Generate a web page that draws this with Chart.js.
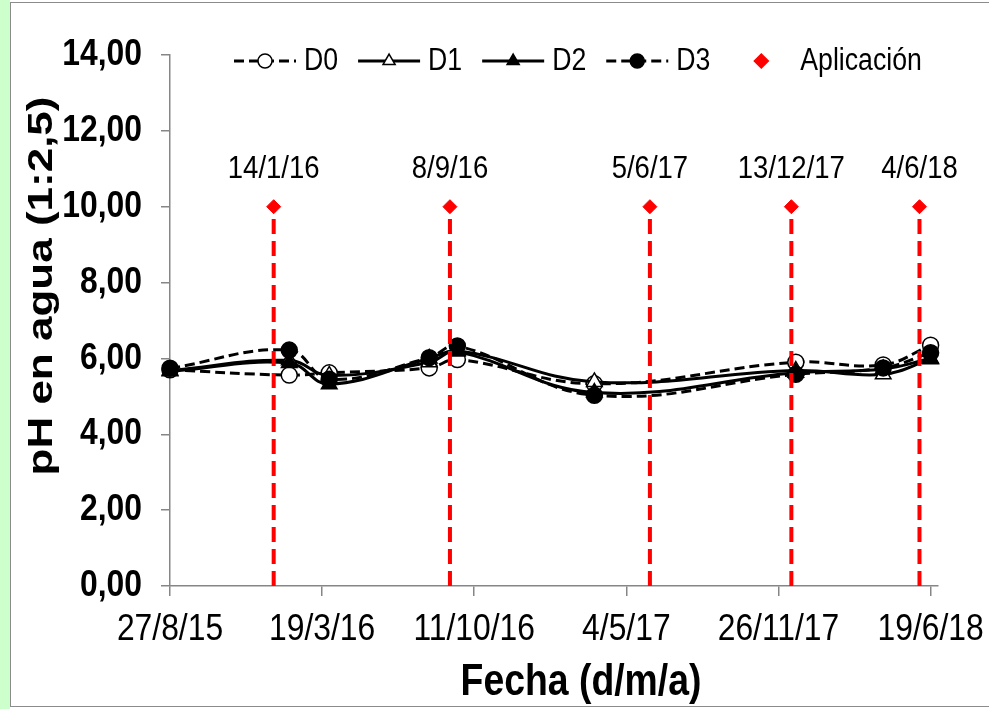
<!DOCTYPE html>
<html>
<head>
<meta charset="utf-8">
<script src="https://cdn.jsdelivr.net/npm/chart.js@4.4.1/dist/chart.umd.min.js"></script>
<style>
  html, body { margin: 0; padding: 0; background: #fff; }
  body { width: 989px; height: 709px; position: relative; overflow: hidden; }
  .strip { position: absolute; left: 0; top: 0; width: 10px; height: 709px; background: #ccffcc; }
  .frame { position: absolute; left: 10px; top: 2px; width: 1000px; height: 705px; border: 1px solid #8c8c8c; box-sizing: border-box; background: #fff; }
  .wrap { position: absolute; left: 11px; top: 3px; width: 978px; height: 702px; }
</style>
</head>
<body>
<div class="strip"></div>
<div class="frame"></div>
<div class="wrap"><canvas id="chart"></canvas></div>
<script>
const FONT = '"Liberation Sans", Arial, sans-serif';
const SQUEEZE = 0.86; // the original text is set in a condensed face

// Sampling dates and pH values
const sampleDates = ['2015-08-27', '2016-02-04', '2016-03-29', '2016-08-11', '2016-09-18', '2017-03-22', '2017-12-19', '2018-04-16', '2018-06-19'];
const d0 = [5.70, 5.56, 5.62, 5.75, 5.97, 5.33, 5.90, 5.83, 6.35];
const d1 = [5.68, 5.95, 5.55, 5.90, 6.20, 5.38, 5.68, 5.58, 5.98];
const d2 = [5.66, 5.88, 5.32, 6.00, 6.18, 5.10, 5.62, 5.72, 6.00];
const d3 = [5.74, 6.22, 5.45, 6.02, 6.33, 5.03, 5.58, 5.75, 6.15];

// Application dates
const appDates = ['2016-01-14', '2016-09-08', '2017-06-05', '2017-12-13', '2018-06-04'];
const appLabels = ['14/1/16', '8/9/16', '5/6/17', '13/12/17', '4/6/18'];
const appValues = [10, 10, 10, 10, 10];

// Axis tick labels
const xTickLabels = ['27/8/15', '19/3/16', '11/10/16', '4/5/17', '26/11/17', '19/6/18'];
const yTicks = [0, 2, 4, 6, 8, 10, 12, 14];

function dayNum(s) {
  const [y, m, d] = s.split('-').map(Number);
  return Date.UTC(y, m - 1, d) / 864e5;
}

const xMin = dayNum('2015-08-27');
const xStep = (dayNum('2018-06-19') - xMin) / (xTickLabels.length - 1);

const toPoints = vals => sampleDates.map((d, i) => ({ x: dayNum(d), y: vals[i] }));

function series(label, vals, dashed, style, filled, order) {
  return {
    label, data: toPoints(vals),
    borderColor: '#000', borderWidth: 3, borderDash: dashed ? [10, 5] : [],
    pointStyle: style, pointRadius: style === 'circle' ? 8 : 9,
    pointBackgroundColor: filled ? '#000' : '#fff', pointBorderColor: '#000', pointBorderWidth: 1.5,
    tension: 0.4, clip: false, order
  };
}

function text(ctx, str, x, y, font, align, sx) {
  ctx.save();
  ctx.font = font;
  ctx.textAlign = align;
  ctx.textBaseline = 'middle';
  ctx.fillStyle = '#000';
  ctx.translate(x, y);
  ctx.scale(sx || SQUEEZE, 1);
  ctx.fillText(str, 0, 0);
  ctx.restore();
}

// Red dashed application lines + date labels
const appPlugin = {
  id: 'aplicaciones',
  afterDatasetsDraw(chart) {
    const { ctx, scales: { x, y } } = chart;
    const y0 = y.getPixelForValue(0);
    ctx.save();
    appDates.forEach((d, i) => {
      const px = x.getPixelForValue(dayNum(d));
      const py = y.getPixelForValue(appValues[i]);
      ctx.strokeStyle = '#ff0000';
      ctx.lineWidth = 4;
      ctx.setLineDash([15, 7]);
      ctx.beginPath();
      ctx.moveTo(px, y0);
      ctx.lineTo(px, py);
      ctx.stroke();
      ctx.setLineDash([]);
      text(ctx, appLabels[i], px, py - 38, '32px ' + FONT, 'center');
    });
    ctx.restore();
  }
};

// Tick labels, legend and axis titles
const textPlugin = {
  id: 'texts',
  afterDraw(chart) {
    const { ctx, chartArea, scales: { x, y } } = chart;

    x.ticks.forEach((t, i) => {
      text(ctx, xTickLabels[i], x.getPixelForValue(t.value), chartArea.bottom + 44, '37px ' + FONT, 'center');
    });
    yTicks.forEach(v => {
      text(ctx, v.toFixed(2).replace('.', ','), chartArea.left - 28, y.getPixelForValue(v), 'bold 37px ' + FONT, 'right');
    });

    // legend
    ctx.save();
    const ly = 58;
    const lineLen = 62;
    let lx = 223;
    ctx.font = '31px ' + FONT;
    chart.data.datasets.forEach(ds => {
      const cx = lx + lineLen / 2;
      if (ds.showLine !== false) {
        ctx.strokeStyle = '#000';
        ctx.lineWidth = 3;
        ctx.setLineDash(ds.borderDash);
        ctx.beginPath();
        ctx.moveTo(lx, ly);
        ctx.lineTo(lx + lineLen, ly);
        ctx.stroke();
        ctx.setLineDash([]);
        ctx.fillStyle = ds.pointBackgroundColor;
        ctx.lineWidth = 1.5;
        Chart.helpers.drawPoint(ctx, { pointStyle: ds.pointStyle, radius: 7, borderWidth: 1.5, rotation: 0 }, cx, ly);
      } else {
        ctx.fillStyle = '#ff0000';
        ctx.strokeStyle = '#ff0000';
        Chart.helpers.drawPoint(ctx, { pointStyle: 'rectRot', radius: 7, borderWidth: 1, rotation: 0 }, cx, ly);
      }
      text(ctx, ds.label, lx + lineLen + 8, ly, '31px ' + FONT, 'left');
      lx += lineLen + 8 + ctx.measureText(ds.label).width * SQUEEZE + 20;
    });
    ctx.restore();

    // x axis title
    text(ctx, 'Fecha (d/m/a)', 570, 680, 'bold 45px ' + FONT, 'center', 0.83);

    // y axis title (rotated, condensed across its height)
    ctx.save();
    ctx.translate(31, 283);
    ctx.rotate(-Math.PI / 2);
    ctx.scale(1, 0.8);
    ctx.font = 'bold 44px ' + FONT;
    ctx.textAlign = 'center';
    ctx.textBaseline = 'middle';
    ctx.fillStyle = '#000';
    ctx.fillText('pH en agua (1:2,5)', 0, 0);
    ctx.restore();
  }
};

new Chart(document.getElementById('chart'), {
  type: 'line',
  data: {
    datasets: [
      series('D0', d0, true, 'circle', false, 4),
      series('D1', d1, false, 'triangle', false, 3),
      series('D2', d2, false, 'triangle', true, 2),
      series('D3', d3, true, 'circle', true, 1),
      {
        label: 'Aplicación',
        data: appDates.map((d, i) => ({ x: dayNum(d), y: appValues[i] })),
        showLine: false, pointStyle: 'rectRot', pointRadius: 7,
        pointBackgroundColor: '#ff0000', pointBorderColor: '#ff0000', clip: false, order: 0
      }
    ]
  },
  options: {
    responsive: true,
    maintainAspectRatio: false,
    animation: false,
    layout: { padding: { left: 0, top: 52, right: 51, bottom: 0 } },
    plugins: { legend: { display: false }, tooltip: { enabled: false } },
    scales: {
      x: {
        type: 'linear',
        min: xMin,
        max: xMin + 1037,
        afterBuildTicks: s => { s.ticks = xTickLabels.map((_, i) => ({ value: xMin + i * xStep })); },
        afterFit: s => { s.height = 119; },
        ticks: { display: false, autoSkip: false },
        grid: { drawOnChartArea: false, tickLength: 10, color: '#868686', lineWidth: 1.5 },
        border: { color: '#868686', width: 1.5 }
      },
      y: {
        min: 0,
        max: 14,
        afterBuildTicks: s => { s.ticks = yTicks.map(v => ({ value: v })); },
        afterFit: s => { s.width = 159; },
        ticks: { display: false },
        grid: { drawOnChartArea: false, tickLength: 9, color: '#868686', lineWidth: 1.5 },
        border: { color: '#868686', width: 1.5 }
      }
    }
  },
  plugins: [appPlugin, textPlugin]
});
</script>
</body>
</html>
